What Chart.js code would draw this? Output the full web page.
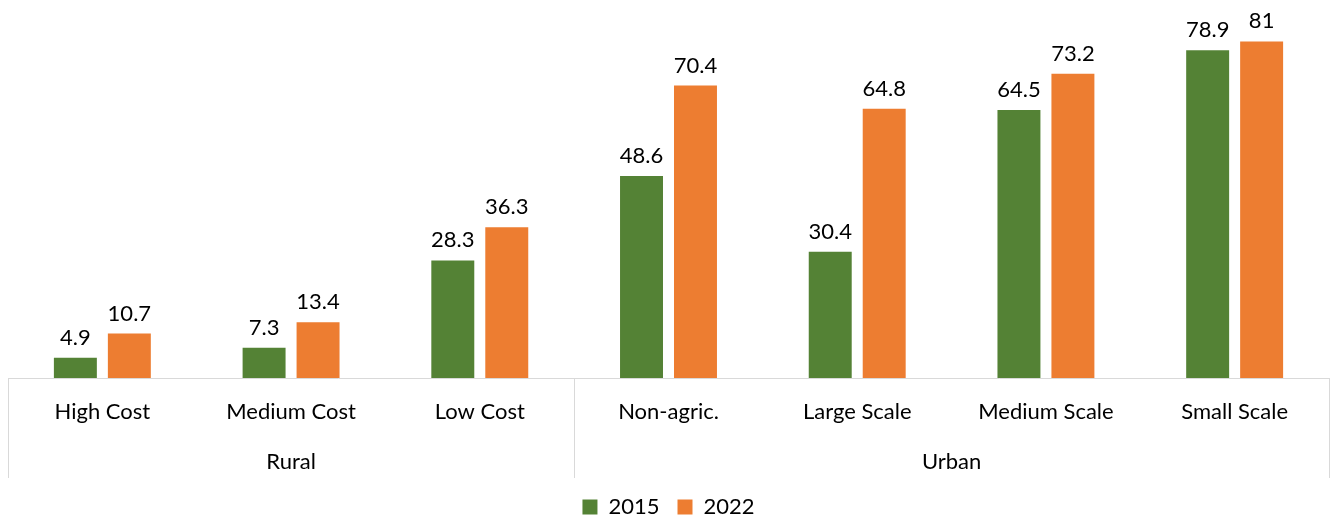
<!DOCTYPE html>
<html>
<head>
<meta charset="utf-8">
<script src="https://cdn.jsdelivr.net/npm/chart.js@4.4.1/dist/chart.umd.min.js"></script>
<style>
  html, body { margin: 0; padding: 0; background: #fff; }
  #wrap { width: 1333px; height: 518px; }
</style>
</head>
<body>
<div id="wrap"><canvas id="chartCanvas"></canvas></div>
<script>
// Categories and their groups
const categories = ['High Cost', 'Medium Cost', 'Low Cost', 'Non-agric.', 'Large Scale', 'Medium Scale', 'Small Scale'];
const groupNames = ['Rural', 'Urban'];
const groupSizes = [3, 4];

// Series values
const values2015 = [4.9, 7.3, 28.3, 48.6, 30.4, 64.5, 78.9];
const values2022 = [10.7, 13.4, 36.3, 70.4, 64.8, 73.2, 81];

const FONT = 'Lato, "Open Sans", sans-serif';
const FONT_SIZE = 22;
const LINE = '#d9d9d9';

// Values printed on top of each bar
const valueLabels = {
    id: 'valueLabels',
    afterDatasetsDraw(chart) {
        const ctx = chart.ctx;
        ctx.save();
        ctx.font = FONT_SIZE + 'px ' + FONT;
        ctx.fillStyle = '#000';
        ctx.textAlign = 'center';
        ctx.textBaseline = 'bottom';
        chart.data.datasets.forEach((ds, i) => {
            chart.getDatasetMeta(i).data.forEach((bar, j) => {
                ctx.fillText(String(ds.data[j]), bar.x, bar.y - 9);
            });
        });
        ctx.restore();
    }
};

// Second level of the category axis: group names and divider lines
const groupAxis = {
    id: 'groupAxis',
    afterDraw(chart) {
        const ctx = chart.ctx;
        const x = chart.scales.x;
        const area = chart.chartArea;
        const top = area.bottom;
        const bottom = top + 100;
        const edges = [area.left];
        let idx = 0;
        groupSizes.forEach(n => {
            idx += n;
            if (idx < categories.length) {
                edges.push((x.getPixelForValue(idx - 1) + x.getPixelForValue(idx)) / 2);
            } else {
                edges.push(area.right);
            }
        });
        ctx.save();
        ctx.strokeStyle = LINE;
        ctx.lineWidth = 1;
        edges.forEach(e => {
            const px = Math.round(e) + 0.5;
            ctx.beginPath();
            ctx.moveTo(px, top);
            ctx.lineTo(px, bottom);
            ctx.stroke();
        });
        ctx.font = FONT_SIZE + 'px ' + FONT;
        ctx.fillStyle = '#000';
        ctx.textAlign = 'center';
        ctx.textBaseline = 'middle';
        groupNames.forEach((name, g) => {
            ctx.fillText(name, (edges[g] + edges[g + 1]) / 2, top + 84);
        });
        ctx.restore();
    }
};

window.addEventListener('load', () => {
    const ctx = document.getElementById('chartCanvas').getContext('2d');
    new Chart(ctx, {
        type: 'bar',
        data: {
            labels: categories,
            datasets: [
                {
                    label: '2015',
                    data: values2015,
                    backgroundColor: '#548235',
                    categoryPercentage: 0.572,
                    barPercentage: 0.796,
                },
                {
                    label: '2022',
                    data: values2022,
                    backgroundColor: '#ed7d31',
                    categoryPercentage: 0.572,
                    barPercentage: 0.796,
                }
            ]
        },
        options: {
            responsive: true,
            maintainAspectRatio: false,
            animation: false,
            // legend is allowed to hang a little past the bottom edge
            layout: { padding: { top: 4, left: 8, right: 4, bottom: -10 } },
            plugins: {
                tooltip: { enabled: false },
                legend: {
                    display: true,
                    position: 'bottom',
                    labels: {
                        font: { family: FONT, size: FONT_SIZE },
                        color: '#000',
                        boxWidth: 15,
                        boxHeight: 15,
                        padding: 18,
                    }
                }
            },
            scales: {
                x: {
                    grid: { display: false, drawTicks: false },
                    border: { display: true, color: LINE, width: 1 },
                    ticks: {
                        font: { family: FONT, size: FONT_SIZE },
                        color: '#000',
                        padding: 21,
                        maxRotation: 0,
                        autoSkip: false,
                    },
                    afterFit(scale) { scale.height = 100; }
                },
                y: {
                    display: false,
                    min: 0,
                    max: 90,
                }
            }
        },
        plugins: [valueLabels, groupAxis]
    });
});
</script>
</body>
</html>
